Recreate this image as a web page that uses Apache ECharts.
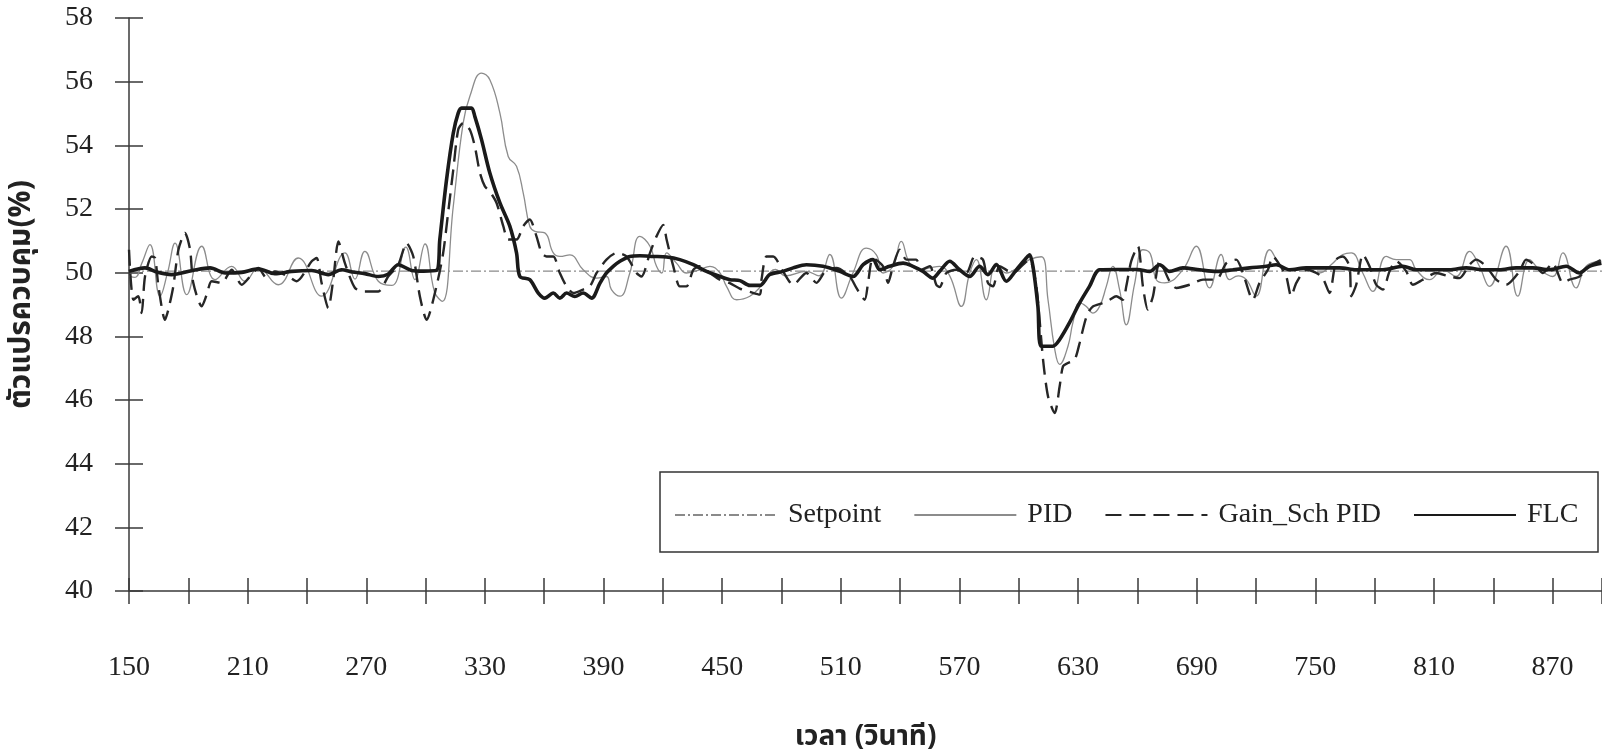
<!DOCTYPE html>
<html>
<head>
<meta charset="utf-8">
<script src="https://cdn.jsdelivr.net/npm/echarts@6/dist/echarts.min.js"></script>
<style>
html,body{margin:0;padding:0;background:#fff;}
#chart{width:1602px;height:755px;}
</style>
</head>
<body>
<div id="chart"></div>
<script>
// ---- data (time in seconds, value in %) ----
const seriesNames = ['Setpoint', 'PID', 'Gain_Sch PID', 'FLC'];
const xTitle = 'เวลา (วินาที)';
const yTitle = 'ตัวแปรควบคุม(%)';

const setpointData = [[150, 50.05], [895, 50.05]];

const pidData = [[150,49.9],[153,49.85],[156.5,50.3],[160.6,50.88],[165.7,49.26],[169.5,50.0],[173.3,50.93],[179.2,49.31],[186.8,50.83],[193.5,49.78],[201.9,50.2],[208.7,49.73],[215.4,50.15],[225.5,49.62],[235.6,50.46],[247.4,49.26],[259.2,50.62],[264.3,49.8],[269.3,50.67],[276.1,49.73],[283,49.6],[290,50.8],[294.6,49.78],[299.7,50.9],[304.5,49.4],[308.5,49.1],[314,52.08],[319,54.7],[322.4,55.54],[328.3,56.27],[332.5,56.06],[337.6,55.01],[341.8,53.65],[346,53.34],[349.4,52.5],[352.7,51.46],[355.3,51.3],[360.3,51.25],[364.6,50.62],[367.9,50.51],[373,50.56],[379.7,50.09],[386.5,49.83],[391.5,49.88],[394,49.47],[398.3,49.26],[403.3,49.99],[408.4,51.14],[413.5,50.83],[416.8,50.2],[419.5,49.99],[421.9,50.62],[426.9,50.3],[432,49.99],[438.7,50.09],[443.8,50.2],[448.9,49.99],[452.2,49.57],[457.3,49.15],[464,49.26],[470,49.6],[477,50.1],[482,49.9],[492.6,50.04],[499,49.9],[504.4,50.57],[510.3,49.2],[516.2,50.0],[522.9,50.77],[528,50.56],[531.4,49.99],[536.4,50.2],[540.6,50.98],[544.8,50.3],[549.9,50.09],[555,50.15],[560,50.2],[565.1,49.9],[571,48.94],[575.2,49.99],[578.6,50.41],[583.6,49.15],[588.7,50.3],[593.7,49.99],[600.5,50.2],[605.5,50.41],[611.4,50.5],[614.8,49.15],[618.2,47.6],[620.7,47.12],[624.9,47.69],[627.4,48.43],[630.8,49.05],[634.2,48.94],[637.5,48.73],[640.9,48.94],[644.3,49.57],[647.6,50.2],[651,49.47],[654.4,48.36],[658.6,49.65],[662.8,50.72],[666.5,50.6],[669.6,49.78],[673.8,49.68],[683,50.09],[689.8,50.83],[696.5,49.52],[702.4,50.57],[706.6,49.78],[711,49.9],[715.1,49.78],[720.1,49.26],[726.9,50.72],[732.8,50.2],[738.7,50.09],[745.4,50.09],[752.1,49.99],[758,50.25],[763.9,50.57],[768.2,50.62],[774,49.99],[779.1,49.41],[785.8,50.51],[790.9,50.41],[797.6,50.41],[801,50.09],[807.8,49.78],[814.5,50.09],[821.2,49.88],[828,50.67],[833,50.2],[838.1,49.57],[846.5,50.83],[852.4,49.26],[858.3,50.41],[863.4,50.09],[870.1,49.88],[875.2,50.62],[881.9,49.52],[887,50.2],[894.7,50.36]];

const gainData = [[150,50.72],[152.2,49.15],[154.7,49.26],[156.4,48.73],[158.1,49.88],[161.5,50.51],[163.2,50.46],[164.9,49.57],[168.2,48.52],[169.9,48.84],[172.4,49.57],[175,50.72],[178.3,51.25],[180.9,50.72],[182.5,49.68],[186.8,48.94],[189.3,49.31],[191.8,49.73],[196.9,49.68],[201.9,50.09],[207,49.62],[212,49.94],[215.4,50.15],[219.6,49.83],[223.8,50.04],[230.6,49.88],[234.8,49.73],[242.4,50.36],[244.9,50.46],[247.4,49.68],[250.8,48.89],[253.3,49.78],[255.9,50.98],[259.2,50.3],[264.3,49.52],[269.3,49.41],[276.1,49.41],[281.1,49.88],[286.2,50.25],[290.4,50.93],[293.8,50.51],[297.1,49.26],[300.5,48.52],[305.5,49.57],[308.9,50.62],[311.4,51.88],[314,53.23],[316.5,54.49],[319,54.7],[322.4,54.49],[324.9,53.97],[327.5,53.13],[330,52.71],[332.5,52.55],[335.9,52.19],[339.3,51.46],[341.8,51.04],[346,51.04],[349.4,51.46],[352.7,51.67],[356.1,51.14],[358.7,50.62],[361.2,50.51],[364.6,50.51],[367.9,49.99],[371.3,49.57],[374.7,49.36],[379.7,49.47],[383.1,49.57],[386.5,49.99],[391.5,50.41],[396.6,50.62],[401.6,50.51],[406.7,49.99],[409.2,49.88],[413.5,50.62],[416.8,51.14],[420.2,51.5],[421.9,51.04],[425.3,50.2],[428.6,49.57],[432,49.57],[435.4,50.09],[438.7,50.2],[443.8,49.99],[448.9,49.78],[453.9,49.67],[458.9,49.5],[464,49.4],[469,49.31],[469.9,49.78],[472.4,50.51],[475.8,50.51],[480.8,50.04],[485.9,49.62],[492.6,49.99],[497.7,49.68],[502.7,50.09],[507.8,50.15],[514.5,49.88],[517.9,49.52],[522.1,49.15],[523.8,49.68],[526.3,50.46],[531.4,50.2],[533.9,49.68],[536.4,50.2],[539.8,50.72],[543.2,50.41],[548.2,50.41],[550.7,50.09],[555,50.2],[558.3,49.62],[560,49.55],[563.4,49.99],[568.4,50.09],[573.5,49.99],[577.7,50.51],[581.9,50.41],[584.4,49.68],[587,49.57],[590.3,50.2],[597.1,49.99],[602.1,50.25],[605.5,50.41],[608.9,49.57],[612.3,47.27],[614.8,46.12],[618.2,45.59],[620.7,46.43],[622.4,47.06],[624.9,47.16],[628.3,47.27],[630.8,47.79],[633.3,48.42],[635,48.73],[637.5,48.94],[642.6,49.05],[646,49.15],[649.3,49.26],[652.7,49.15],[654.4,49.57],[656.9,50.36],[660.3,50.83],[662.8,49.57],[665.3,48.84],[667.9,49.26],[671.3,50.36],[676.3,49.73],[679.7,49.52],[686.4,49.62],[693.2,49.78],[699.9,49.78],[705,50.3],[710,50.41],[713.4,49.99],[718.4,49.15],[721.8,49.68],[726,50.09],[728.6,50.51],[731.9,50.25],[735.3,49.88],[737.8,49.26],[740.4,49.68],[745.4,50.09],[750.5,49.99],[753.8,49.83],[757.2,49.36],[760.6,50.41],[763.9,50.51],[767.3,50.2],[768.2,49.26],[770.7,49.62],[774.1,50.57],[777.4,50.2],[780.8,49.62],[784.2,49.47],[787.5,50.04],[790.9,50.36],[796,50.04],[799.3,49.62],[804.4,49.78],[811.1,49.99],[817.9,49.88],[822.9,49.83],[828,50.25],[831.4,50.41],[836.4,50.2],[841.5,49.78],[846.5,49.62],[853.3,50.04],[856.6,50.41],[861.7,50.2],[865.1,49.99],[870.1,50.3],[875.2,49.68],[878.5,49.78],[883.6,49.88],[888.6,50.2],[894.7,50.41]];

const flcData = [[150,50.04],[158.1,50.15],[164,50.02],[171.6,49.94],[181.7,50.06],[191,50.15],[198.6,49.99],[207,50.01],[215.4,50.12],[223.8,49.97],[232.3,50.04],[242.4,50.07],[250.8,49.94],[257.5,50.09],[263,50.02],[269.3,49.97],[276.1,49.88],[281,49.95],[286.2,50.25],[292.9,50.07],[299,50.05],[305.5,50.07],[307.2,51.04],[310.6,52.92],[314,54.38],[316.5,55.01],[318.2,55.17],[323.2,55.17],[324.9,54.91],[328.3,54.18],[332.5,53.13],[337.6,52.19],[342.6,51.46],[346,50.62],[347.7,49.88],[352.7,49.78],[357,49.36],[360.3,49.2],[364.6,49.36],[367.9,49.2],[371.3,49.36],[375.5,49.25],[379.7,49.36],[384,49.2],[388.2,49.67],[391.5,49.99],[394.9,50.2],[398.3,50.36],[403.3,50.51],[408.4,50.53],[415.1,50.51],[421.9,50.49],[428.6,50.41],[435.4,50.25],[442.1,50.04],[448.9,49.88],[453.9,49.78],[459,49.75],[464,49.6],[469,49.6],[474.1,49.94],[480.8,50.04],[485.9,50.15],[492.6,50.25],[501,50.2],[509.5,50.04],[516.2,49.88],[521.3,50.25],[526.3,50.41],[529.7,50.09],[534.7,50.2],[541.5,50.3],[546.5,50.2],[551.6,50.04],[556.6,49.83],[560,50.04],[565.1,50.36],[570.1,50.09],[575.2,49.88],[580.2,50.2],[584.4,49.94],[588.7,50.25],[593.7,49.73],[598.8,50.09],[603.8,50.46],[605.5,50.56],[607.2,50.2],[609.7,48.94],[611.4,47.69],[617.3,47.69],[620.7,47.9],[625.7,48.43],[630.8,49.05],[635.8,49.57],[640.9,50.09],[650,50.1],[660,50.1],[666.2,50.04],[671.3,50.25],[676.3,50.04],[683,50.15],[691.5,50.09],[699.9,50.04],[708.3,50.09],[716.8,50.15],[725.2,50.2],[730.2,50.25],[737,50.09],[745.4,50.15],[753.8,50.15],[762.3,50.15],[770.7,50.09],[784.2,50.09],[794.3,50.2],[801,50.09],[817.9,50.09],[826.3,50.15],[834.7,50.09],[843.1,50.09],[851.6,50.15],[860,50.15],[868.4,50.09],[876.9,50.2],[883.6,49.99],[888.6,50.2],[894.7,50.3]];

const X_MIN = 150, X_MAX = 895, X_STEP = 30, X_LABEL_STEP = 60, X_LAST_LABEL = 870;
const Y_MIN = 40, Y_MAX = 58, Y_STEP = 2;

// ---- chart ----
const chart = echarts.init(document.getElementById('chart'), null, {renderer: 'canvas'});
const serif = "'Liberation Serif','DejaVu Serif',serif";
const thai = "'Noto Sans Thai','Noto Serif Thai','Loma','Garuda','Noto Sans','DejaVu Sans',sans-serif";
const axisColor = '#3a3a3a';
const gridPos = {left: 129, right: 0, top: 18, bottom: 164, containLabel: false, outerBoundsMode: 'none'};

const baseX = {
  type: 'value', min: X_MIN, max: X_MAX, interval: X_STEP,
  splitLine: {show: false}
};
const baseY = {
  type: 'value', min: Y_MIN, max: Y_MAX, interval: Y_STEP,
  splitLine: {show: false}
};

const option = {
  backgroundColor: '#ffffff',
  animation: false,
  grid: [
    Object.assign({}, gridPos),
    Object.assign({}, gridPos)
  ],
  xAxis: [
    Object.assign({}, baseX, {
      gridIndex: 0, position: 'bottom',
      axisLine: {show: true, onZero: false, lineStyle: {color: axisColor, width: 1.5}},
      axisTick: {show: true, inside: false, length: 13, lineStyle: {color: axisColor, width: 1.5}},
      axisLabel: {
        show: true, margin: 63, color: '#222', fontFamily: serif, fontSize: 28,
        formatter: function (v) {
          return ((v - X_MIN) % X_LABEL_STEP === 0 && v <= X_LAST_LABEL) ? String(v) : '';
        }
      },
      name: xTitle, nameLocation: 'middle', nameGap: 134,
      nameTextStyle: {color: '#222', fontFamily: thai, fontSize: 28, fontWeight: 'bold'}
    }),
    Object.assign({}, baseX, {
      gridIndex: 1, position: 'bottom',
      axisLine: {show: false},
      axisTick: {show: true, inside: true, length: 13, lineStyle: {color: axisColor, width: 1.5}},
      axisLabel: {show: false}
    })
  ],
  yAxis: [
    Object.assign({}, baseY, {
      gridIndex: 0, position: 'left',
      axisLine: {show: true, onZero: false, lineStyle: {color: axisColor, width: 1.5}},
      axisTick: {show: true, inside: false, length: 14, lineStyle: {color: axisColor, width: 1.5}},
      axisLabel: {show: true, margin: 36, color: '#222', fontFamily: serif, fontSize: 28},
      name: yTitle, nameLocation: 'middle', nameGap: 90, nameRotate: 90,
      nameTextStyle: {color: '#222', fontFamily: thai, fontSize: 30, fontWeight: 'bold', padding: [0, 0, 0, 20]}
    }),
    Object.assign({}, baseY, {
      gridIndex: 1, position: 'left',
      axisLine: {show: false},
      axisTick: {show: true, inside: true, length: 14, lineStyle: {color: axisColor, width: 1.5}},
      axisLabel: {show: false}
    })
  ],
  legend: {
    data: seriesNames,
    left: 674, top: 501,
    orient: 'horizontal',
    itemWidth: 102, itemHeight: 14, itemGap: 32,
    padding: 0,
    itemStyle: {opacity: 0},
    textStyle: {color: '#222', fontFamily: serif, fontSize: 28, padding: [0, 0, 0, 6]},
    selectedMode: false
  },
  graphic: [{
    type: 'rect', z: -1,
    shape: {x: 660, y: 472, width: 938, height: 80},
    style: {fill: '#fff', stroke: '#333', lineWidth: 1.5}
  }],
  series: [
    {
      name: seriesNames[0], type: 'line', xAxisIndex: 0, yAxisIndex: 0,
      data: setpointData, symbol: 'none', z: 1,
      lineStyle: {color: '#8a8a8a', width: 1.2, type: [10, 3, 2, 3]},
      itemStyle: {color: '#8a8a8a'}
    },
    {
      name: seriesNames[1], type: 'line', xAxisIndex: 0, yAxisIndex: 0,
      data: pidData, symbol: 'none', smooth: 0.45, z: 2,
      lineStyle: {color: '#8c8c8c', width: 1.3},
      itemStyle: {color: '#8c8c8c'}
    },
    {
      name: seriesNames[2], type: 'line', xAxisIndex: 0, yAxisIndex: 0,
      data: gainData, symbol: 'none', smooth: 0.25, z: 3,
      lineStyle: {color: '#262626', width: 2.4, type: [16, 8]},
      itemStyle: {color: '#262626'}
    },
    {
      name: seriesNames[3], type: 'line', xAxisIndex: 0, yAxisIndex: 0,
      data: flcData, symbol: 'none', smooth: 0.3, z: 4,
      lineStyle: {color: '#1a1a1a', width: 3.6},
      itemStyle: {color: '#1a1a1a'}
    }
  ]
};
chart.setOption(option);
</script>
</body>
</html>
